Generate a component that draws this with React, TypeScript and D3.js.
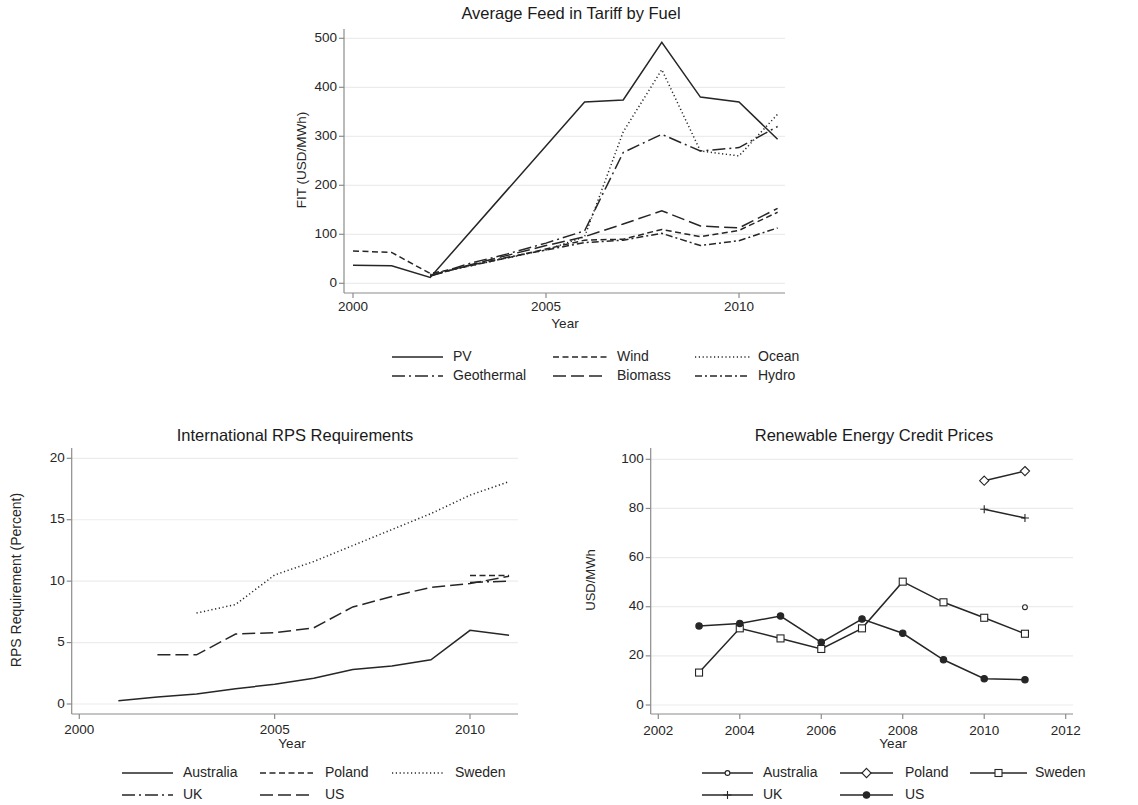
import React from "react";
import * as d3 from "d3";

// ---- Average Feed in Tariff by Fuel (USD/MWh) ----
const fuelYears = [2000, 2001, 2002, 2003, 2004, 2005, 2006, 2007, 2008, 2009, 2010, 2011];
const fitPV = [37, 36, 12, null, null, null, 370, 374, 492, 380, 370, 294];
const fitWind = [66, 63, 20, 35, 52, 70, 88, 90, 110, 95, 108, 145];
const fitOcean = [null, null, 18, 35, 52, 68, 95, 309, 436, 270, 260, 345];
const fitGeothermal = [null, null, 15, 40, 60, 82, 107, 267, 304, 270, 277, 320];
const fitBiomass = [null, null, 15, 37, 57, 77, 95, 121, 148, 117, 113, 153];
const fitHydro = [null, null, 16, 36, 53, 68, 83, 88, 102, 77, 87, 113];

// ---- International RPS Requirements (percent) ----
const rpsYears = [2000, 2001, 2002, 2003, 2004, 2005, 2006, 2007, 2008, 2009, 2010, 2011];
const rpsAustralia = [null, 0.27, 0.57, 0.81, 1.25, 1.6, 2.1, 2.8, 3.1, 3.6, 6.0, 5.6];
const rpsPoland = [null, null, null, null, null, null, null, null, null, null, 10.45, 10.45];
const rpsSweden = [null, null, null, 7.4, 8.1, 10.5, 11.6, 12.9, 14.2, 15.5, 17.0, 18.1];
const rpsUK = [null, null, null, null, null, null, null, null, null, null, 9.9, 10.0];
const rpsUS = [null, null, 4.0, 4.0, 5.7, 5.8, 6.2, 7.9, 8.75, 9.5, 9.8, 10.4];

// ---- Renewable Energy Credit Prices (USD/MWh) ----
const recYears = [2003, 2004, 2005, 2006, 2007, 2008, 2009, 2010, 2011];
const recAustralia = [null, null, null, null, null, null, null, null, 39.8];
const recPoland = [null, null, null, null, null, null, null, 91.3, 95.2];
const recSweden = [13.2, 31.2, 27.1, 22.8, 31.2, 50.2, 41.8, 35.5, 29.0];
const recUK = [null, null, null, null, null, null, null, 79.7, 76.1];
const recUS = [32.2, 33.2, 36.2, 25.5, 35, 29.2, 18.4, 10.7, 10.3];

const FONT = "'Liberation Sans', Arial, Helvetica, sans-serif";
const INK = "#262626";
const AXIS = "#8c8c8c";
const GRID = "#ececec";

type Series = {
  name: string;
  values: (number | null)[];
  dash?: string;
  marker?: "circle" | "diamond" | "square" | "plus" | "dot";
};

type LegendCol = { x1: number; x2: number; tx: number };

type ChartProps = {
  years: number[];
  series: Series[];
  xDomain: [number, number];
  xRange: [number, number];
  yDomain: [number, number];
  yRange: [number, number];
  xTicks: number[];
  yTicks: number[];
  box: { left: number; top: number; right: number; bottom: number };
  title: string;
  titleX: number;
  titleY: number;
  yLabel: string;
  yLabelX: number;
  yLabelY: number;
  yLabelSize: number;
  xLabelX: number;
  xLabelY: number;
  tickLabelY: number;
  legendCols: LegendCol[];
  legendRows: number[];
};

function Marker({ kind, x, y }: { kind?: Series["marker"]; x: number; y: number }) {
  if (!kind) return null;
  const sw = 1.1;
  if (kind === "circle")
    return <circle cx={x} cy={y} r={2.4} fill="#fff" stroke={INK} strokeWidth={sw} />;
  if (kind === "dot") return <circle cx={x} cy={y} r={3.2} fill={INK} stroke={INK} strokeWidth={sw} />;
  if (kind === "square")
    return <rect x={x - 3.5} y={y - 3.5} width={7} height={7} fill="#fff" stroke={INK} strokeWidth={sw} />;
  if (kind === "diamond")
    return (
      <path
        d={`M${x},${y - 4.6}L${x + 4.6},${y}L${x},${y + 4.6}L${x - 4.6},${y}Z`}
        fill="#fff"
        stroke={INK}
        strokeWidth={sw}
      />
    );
  return (
    <path d={`M${x - 4},${y}H${x + 4}M${x},${y - 4}V${y + 4}`} stroke={INK} strokeWidth={sw} fill="none" />
  );
}

function LineChart(p: ChartProps) {
  const x = d3.scaleLinear().domain(p.xDomain).range(p.xRange);
  const y = d3.scaleLinear().domain(p.yDomain).range(p.yRange);
  const line = d3
    .line<[number, number]>()
    .x((d) => x(d[0]))
    .y((d) => y(d[1]));

  // Stata-style: connect across missing years
  const pts = (s: Series) =>
    p.years
      .map((yr, i) => [yr, s.values[i]] as [number, number | null])
      .filter((d) => d[1] !== null) as [number, number][];

  return (
    <g>
      <text x={p.titleX} y={p.titleY} textAnchor="middle" fontSize={16.5} fill="#1a1a1a" dominantBaseline="middle">
        {p.title}
      </text>

      {/* grid */}
      {p.yTicks.map((t) => (
        <line key={"g" + t} x1={p.box.left} x2={p.box.right} y1={y(t)} y2={y(t)} stroke={GRID} strokeWidth={1.2} />
      ))}

      {/* axes */}
      <line x1={p.box.left} x2={p.box.left} y1={p.box.top} y2={p.box.bottom} stroke={AXIS} strokeWidth={1.2} />
      <line x1={p.box.left} x2={p.box.right} y1={p.box.bottom} y2={p.box.bottom} stroke={AXIS} strokeWidth={1.2} />
      {p.yTicks.map((t) => (
        <g key={"y" + t}>
          <line x1={p.box.left - 5} x2={p.box.left} y1={y(t)} y2={y(t)} stroke={AXIS} strokeWidth={1.2} />
          <text x={p.box.left - 7} y={y(t)} textAnchor="end" dominantBaseline="middle" fontSize={13.5} fill={INK}>
            {t}
          </text>
        </g>
      ))}
      {p.xTicks.map((t) => (
        <g key={"x" + t}>
          <line x1={x(t)} x2={x(t)} y1={p.box.bottom} y2={p.box.bottom + 5} stroke={AXIS} strokeWidth={1.2} />
          <text x={x(t)} y={p.tickLabelY} textAnchor="middle" dominantBaseline="middle" fontSize={13.5} fill={INK}>
            {t}
          </text>
        </g>
      ))}
      <text x={p.xLabelX} y={p.xLabelY} textAnchor="middle" dominantBaseline="middle" fontSize={13.5} fill={INK}>
        Year
      </text>
      <text
        transform={`translate(${p.yLabelX},${p.yLabelY}) rotate(-90)`}
        textAnchor="middle"
        dominantBaseline="middle"
        fontSize={p.yLabelSize}
        fill={INK}
      >
        {p.yLabel}
      </text>

      {/* series */}
      {p.series.map((s) => {
        const d = pts(s);
        return (
          <g key={s.name}>
            {d.length > 1 && (
              <path d={line(d) || ""} fill="none" stroke={INK} strokeWidth={1.5} strokeDasharray={s.dash} />
            )}
            {d.map((pt, i) => (
              <Marker key={i} kind={s.marker} x={x(pt[0])} y={y(pt[1])} />
            ))}
          </g>
        );
      })}

      {/* legend */}
      {p.series.map((s, i) => {
        const col = p.legendCols[i % p.legendCols.length];
        const ry = p.legendRows[Math.floor(i / p.legendCols.length)];
        return (
          <g key={"l" + s.name}>
            <line x1={col.x1} x2={col.x2} y1={ry} y2={ry} stroke={INK} strokeWidth={1.3} strokeDasharray={s.dash} />
            <Marker kind={s.marker} x={(col.x1 + col.x2) / 2} y={ry} />
            <text x={col.tx} y={ry} dominantBaseline="middle" fontSize={14} fill={INK}>
              {s.name}
            </text>
          </g>
        );
      })}
    </g>
  );
}

const DOT = "1.2,2.6";

export default function App() {
  const fuelSeries: Series[] = [
    { name: "PV", values: fitPV },
    { name: "Wind", values: fitWind, dash: "6,3.5" },
    { name: "Ocean", values: fitOcean, dash: DOT },
    { name: "Geothermal", values: fitGeothermal, dash: "13,4,2,4" },
    { name: "Biomass", values: fitBiomass, dash: "13,5" },
    { name: "Hydro", values: fitHydro, dash: "7,3,2,3" },
  ];
  const rpsSeries: Series[] = [
    { name: "Australia", values: rpsAustralia },
    { name: "Poland", values: rpsPoland, dash: "6,3.5" },
    { name: "Sweden", values: rpsSweden, dash: DOT },
    { name: "UK", values: rpsUK, dash: "13,4,2,4" },
    { name: "US", values: rpsUS, dash: "13,5" },
  ];
  const recSeries: Series[] = [
    { name: "Australia", values: recAustralia, marker: "circle" },
    { name: "Poland", values: recPoland, marker: "diamond" },
    { name: "Sweden", values: recSweden, marker: "square" },
    { name: "UK", values: recUK, marker: "plus" },
    { name: "US", values: recUS, marker: "dot" },
  ];

  return (
    <svg
      width={1138}
      height={805}
      style={{ position: "absolute", left: 0, top: 0, background: "#fff", fontFamily: FONT }}
    >
      <rect width={1138} height={805} fill="#fff" />
      <LineChart
        years={fuelYears}
        series={fuelSeries}
        xDomain={[2000, 2010]}
        xRange={[353, 739]}
        yDomain={[0, 500]}
        yRange={[283.3, 38.3]}
        xTicks={[2000, 2005, 2010]}
        yTicks={[0, 100, 200, 300, 400, 500]}
        box={{ left: 344, top: 29, right: 785, bottom: 293 }}
        title="Average Feed in Tariff by Fuel"
        titleX={571}
        titleY={15}
        yLabel="FIT (USD/MWh)"
        yLabelX={302}
        yLabelY={160}
        yLabelSize={13.5}
        xLabelX={565}
        xLabelY={324}
        tickLabelY={307}
        legendCols={[
          { x1: 392, x2: 443, tx: 453 },
          { x1: 553, x2: 607, tx: 617 },
          { x1: 695, x2: 750, tx: 758 },
        ]}
        legendRows={[357, 376]}
      />
      <LineChart
        years={rpsYears}
        series={rpsSeries}
        xDomain={[2000, 2010]}
        xRange={[79.3, 470]}
        yDomain={[0, 20]}
        yRange={[704, 458.3]}
        xTicks={[2000, 2005, 2010]}
        yTicks={[0, 5, 10, 15, 20]}
        box={{ left: 71.7, top: 448, right: 518, bottom: 714 }}
        title="International RPS Requirements"
        titleX={295}
        titleY={437}
        yLabel="RPS Requirement (Percent)"
        yLabelX={17}
        yLabelY={580}
        yLabelSize={14}
        xLabelX={292}
        xLabelY={744}
        tickLabelY={730}
        legendCols={[
          { x1: 122, x2: 173, tx: 183 },
          { x1: 260, x2: 313, tx: 325 },
          { x1: 392, x2: 445, tx: 455 },
        ]}
        legendRows={[773, 795]}
      />
      <LineChart
        years={recYears}
        series={recSeries}
        xDomain={[2002, 2012]}
        xRange={[658.3, 1065.7]}
        yDomain={[0, 100]}
        yRange={[705, 459.3]}
        xTicks={[2002, 2004, 2006, 2008, 2010, 2012]}
        yTicks={[0, 20, 40, 60, 80, 100]}
        box={{ left: 650.7, top: 448, right: 1073, bottom: 714 }}
        title="Renewable Energy Credit Prices"
        titleX={874}
        titleY={437}
        yLabel="USD/MWh"
        yLabelX={592}
        yLabelY={580}
        yLabelSize={13}
        xLabelX={893}
        xLabelY={744}
        tickLabelY={731}
        legendCols={[
          { x1: 702, x2: 753, tx: 763 },
          { x1: 840, x2: 893, tx: 905 },
          { x1: 970, x2: 1027, tx: 1035 },
        ]}
        legendRows={[773, 795]}
      />
    </svg>
  );
}
